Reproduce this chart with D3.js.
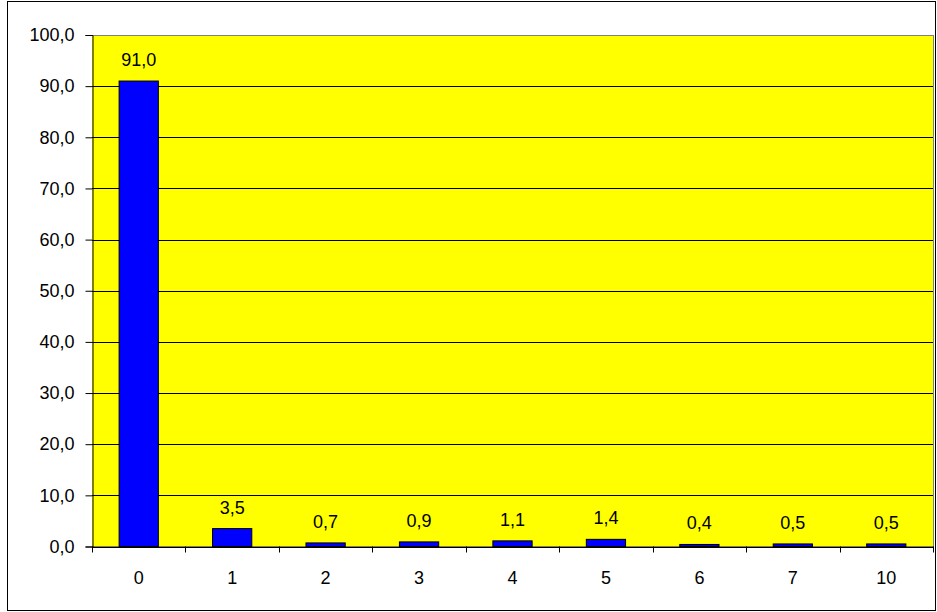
<!DOCTYPE html>
<html><head><meta charset="utf-8">
<script src="https://cdn.jsdelivr.net/npm/d3@7"></script>
<style>body{margin:0;background:#fff}svg{display:block}text{font-family:"Liberation Sans",Arial,sans-serif;fill:#000}</style>
</head><body><svg id="c" width="937" height="612"></svg>
<script>
const categories = ["0","1","2","3","4","5","6","7","10"];
const values = [91.0, 3.5, 0.7, 0.9, 1.1, 1.4, 0.4, 0.5, 0.5];
const yTicks = [0,10,20,30,40,50,60,70,80,90,100];

const svg = d3.select("#c");
const L = 92, R = 933, T = 35, B = 546.5;
const FS = 18;
const fmt = v => v.toFixed(1).replace(".", ",");

svg.append("rect").attr("x",7.5).attr("y",1.5).attr("width",928).attr("height",609)
  .attr("fill","#fff").attr("stroke","#000").attr("stroke-width",1);

const x = d3.scaleBand().domain(categories).range([L, R]).paddingInner(0).paddingOuter(0);
const y = d3.scaleLinear().domain([0,100]).range([B, T]);

svg.append("rect").attr("x",L).attr("y",T).attr("width",R-L).attr("height",B-T).attr("fill","#ffff00");

// gridlines
svg.append("g").selectAll("line").data(yTicks).join("line")
  .attr("x1",L).attr("x2",R).attr("y1",d=>Math.round(y(d))+0.5).attr("y2",d=>Math.round(y(d))+0.5)
  .attr("stroke","#000").attr("stroke-width",1);

svg.append("line").attr("x1",R+0.5).attr("x2",R+0.5).attr("y1",T).attr("y2",B).attr("stroke","#808080");
svg.append("line").attr("x1",L).attr("x2",R).attr("y1",T+0.5).attr("y2",T+0.5).attr("stroke","#808080");

const bw = x.bandwidth()*0.42;
svg.append("g").selectAll("rect").data(values).join("rect")
  .attr("x",(d,i)=>x(categories[i])+x.bandwidth()/2-bw/2)
  .attr("y",d=>y(d))
  .attr("width",bw)
  .attr("height",d=>B-y(d))
  .attr("fill","#0000ff").attr("stroke","#000").attr("stroke-width",1);

svg.append("g").selectAll("text").data(values).join("text")
  .attr("x",(d,i)=>x(categories[i])+x.bandwidth()/2)
  .attr("y",d=>y(d)-15)
  .attr("text-anchor","middle").attr("font-size",FS)
  .text(d=>fmt(d));

// y axis
const yAxis = d3.axisLeft(y).tickValues(yTicks).tickSize(7).tickPadding(11).tickFormat(fmt);
const gy = svg.append("g").attr("transform",`translate(${L+0.5},0)`).call(yAxis);
gy.attr("font-size",FS).attr("font-family","Liberation Sans, Arial, sans-serif");
gy.select(".domain").attr("stroke","#000");
gy.selectAll("text").attr("font-size",FS);

// x axis
const gx = svg.append("g").attr("transform",`translate(0,${B})`);
gx.append("line").attr("x1",L).attr("x2",R+1).attr("y1",0.5).attr("y2",0.5).attr("stroke","#000");
const bounds = categories.map(c=>x(c)).concat([R]);
gx.selectAll("line.t").data(bounds).join("line").attr("class","t")
  .attr("x1",d=>Math.round(d)+0.5).attr("x2",d=>Math.round(d)+0.5).attr("y1",0).attr("y2",6).attr("stroke","#000");
gx.selectAll("text").data(categories).join("text")
  .attr("x",d=>x(d)+x.bandwidth()/2).attr("y",37)
  .attr("text-anchor","middle").attr("font-size",FS).text(d=>d);
</script></body></html>
